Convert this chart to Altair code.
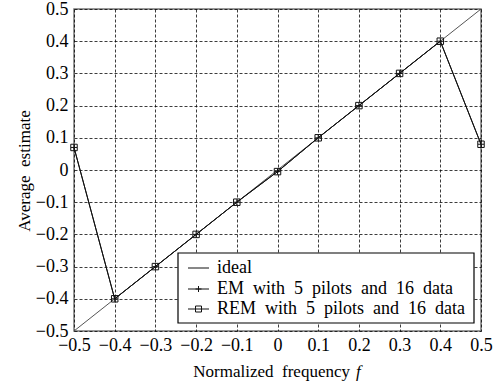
import altair as alt
import pandas as pd

# ---- data ----
freq = [-0.5, -0.4, -0.3, -0.2, -0.1, 0.0, 0.1, 0.2, 0.3, 0.4, 0.5]
em_est = [0.07, -0.40, -0.30, -0.20, -0.10, -0.005, 0.10, 0.20, 0.30, 0.40, 0.08]
rem_est = [0.07, -0.40, -0.30, -0.20, -0.10, -0.005, 0.10, 0.20, 0.30, 0.40, 0.08]
ideal_x = [-0.5, 0.5]
ideal_y = [-0.5, 0.5]
tick_vals = [-0.5, -0.4, -0.3, -0.2, -0.1, 0.0, 0.1, 0.2, 0.3, 0.4, 0.5]
SP = "\u00a0 "
legend_labels = ["ideal",
                 SP.join(["EM", "with", "5", "pilots", "and", "16", "data"]),
                 SP.join(["REM", "with", "5", "pilots", "and", "16", "data"])]

FONT = "Liberation Serif"
PLUS = "M-1,0H1M0,-1V1"

df_ideal = pd.DataFrame({"f": ideal_x, "v": ideal_y})
df_em = pd.DataFrame({"f": freq, "v": em_est})
df_rem = pd.DataFrame({"f": freq, "v": rem_est})

xs = alt.Scale(domain=[-0.5, 0.5], nice=False, zero=False)
ys = alt.Scale(domain=[-0.5, 0.5], nice=False, zero=False)

LBL = "datum.value == 0 ? '0' : replace(format(datum.value, '.1f'), '-', '\u2212')"
xax = alt.Axis(values=tick_vals, title=None, grid=True, gridDash=[3, 2], gridColor="#000000",
               gridOpacity=0.85, gridWidth=0.9, ticks=False, domain=False,
               labelFont=FONT, labelFontSize=18, labelColor="#000", labelPadding=5,
               labelOverlap=False, labelBound=False, labelFlush=False, labelExpr=LBL)
yax = alt.Axis(values=tick_vals, title=None, grid=True, gridDash=[3, 2], gridColor="#000000",
               gridOpacity=0.85, gridWidth=0.9, ticks=False, domain=False,
               labelFont=FONT, labelFontSize=18, labelColor="#000", labelPadding=6,
               labelOverlap=False, labelBound=False, labelFlush=False, labelExpr=LBL)

ideal = alt.Chart(df_ideal).mark_line(color="#555555", strokeWidth=1, clip=True).encode(
    x=alt.X("f:Q", scale=xs, axis=xax),
    y=alt.Y("v:Q", scale=ys, axis=yax),
)

em_line = alt.Chart(df_em).mark_line(color="#111111", strokeWidth=1).encode(
    x=alt.X("f:Q", scale=xs, axis=xax), y=alt.Y("v:Q", scale=ys, axis=yax))
em_pts = alt.Chart(df_em).mark_point(shape=PLUS, size=36, color="#111111", strokeWidth=1,
                                      filled=False, opacity=1).encode(
    x=alt.X("f:Q", scale=xs, axis=xax), y=alt.Y("v:Q", scale=ys, axis=yax))
rem_line = alt.Chart(df_rem).mark_line(color="#111111", strokeWidth=1).encode(
    x=alt.X("f:Q", scale=xs, axis=xax), y=alt.Y("v:Q", scale=ys, axis=yax))
rem_pts = alt.Chart(df_rem).mark_point(shape="square", size=42, color="#111111", strokeWidth=1,
                                        filled=False, opacity=1).encode(
    x=alt.X("f:Q", scale=xs, axis=xax), y=alt.Y("v:Q", scale=ys, axis=yax))

# ---- legend (drawn by hand) ----
one = pd.DataFrame({"a": [0]})
leg_box = alt.Chart(one).mark_rect(fill="white", stroke="#000", strokeWidth=1.2).encode(
    x=alt.value(104), x2=alt.value(400), y=alt.value(244), y2=alt.value(314))

rows_y = [259, 280, 300]
df_leg = pd.DataFrame({"label": legend_labels, "ly": rows_y})
leg_lines = alt.Chart(df_leg).mark_rule(color="#111", strokeWidth=1).encode(
    x=alt.value(114), x2=alt.value(135), y=alt.Y("ly:Q", scale=None, axis=None))
leg_text = alt.Chart(df_leg).mark_text(font=FONT, fontSize=18, align="left", baseline="middle",
                                       color="#000").encode(
    x=alt.value(143), y=alt.Y("ly:Q", scale=None, axis=None), text="label:N")
df_leg_em = pd.DataFrame({"ly": [rows_y[1]]})
df_leg_rem = pd.DataFrame({"ly": [rows_y[2]]})
leg_em = alt.Chart(df_leg_em).mark_point(shape=PLUS, size=36, color="#111", strokeWidth=1,
                                         filled=False, opacity=1).encode(
    x=alt.value(124.5), y=alt.Y("ly:Q", scale=None, axis=None))
leg_rem = alt.Chart(df_leg_rem).mark_point(shape="square", size=36, color="#111", strokeWidth=1,
                                           filled=False, opacity=1).encode(
    x=alt.value(124.5), y=alt.Y("ly:Q", scale=None, axis=None))

# ---- axis titles ----
xt1 = alt.Chart(one).mark_text(font=FONT, fontSize=17, align="right", baseline="middle",
                               color="#000", text="Normalized" + SP + "frequency").encode(
    x=alt.value(276), y=alt.value(363))
xt2 = alt.Chart(one).mark_text(font=FONT, fontSize=17, align="left", baseline="middle",
                               fontStyle="italic", color="#000", text="f").encode(
    x=alt.value(282), y=alt.value(363))
yt = alt.Chart(one).mark_text(font=FONT, fontSize=17, align="center", baseline="middle",
                              angle=270, color="#000", text="Average" + SP + "estimate").encode(
    x=alt.value(-49), y=alt.value(162))

chart = alt.layer(ideal, em_line, rem_line, em_pts, rem_pts, leg_box, leg_lines, leg_text,
                  leg_em, leg_rem, xt1, xt2, yt).properties(
    width=407, height=322,
    autosize=alt.AutoSizeParams(type="none"),
    padding={"left": 74, "top": 9, "right": 21, "bottom": 56},
    background="white",
).configure_view(stroke="#777777", strokeWidth=1.5).configure_axis(labelOverlap=False)

chart.save("out.html", embed_options={"renderer": "svg", "actions": False})
